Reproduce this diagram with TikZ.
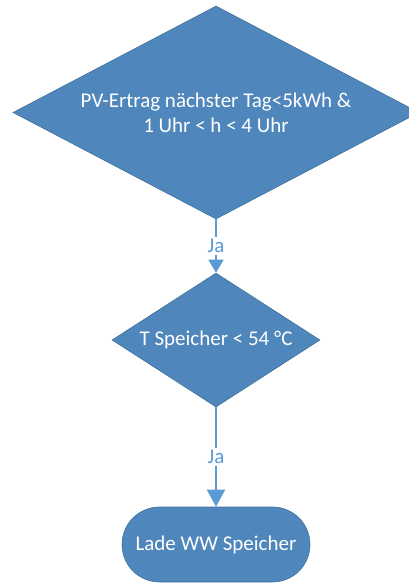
\documentclass[tikz,border=0pt]{standalone}
\usepackage{fontspec}
\setmainfont{Carlito}
\usetikzlibrary{shapes.geometric,shapes.misc,arrows.meta}
\definecolor{boxfill}{HTML}{4F86BB}
\definecolor{boxline}{HTML}{41719C}
\definecolor{linkblue}{HTML}{5B9BD5}
\tikzset{
  shapebase/.style={fill=boxfill, draw=boxline, line width=0.6pt, text=white, align=center, inner sep=0pt, font=\fontsize{21}{25}\selectfont},
  decision/.style={shapebase, diamond},
  terminal/.style={shapebase, rounded rectangle},
  link/.style={draw=linkblue, line width=1.6pt},
  linklabel/.style={fill=white, text=linkblue, inner sep=2pt, font=\fontsize{21}{23}\selectfont},
}
\begin{document}
\begin{tikzpicture}[x=1pt,y=-1pt]
\useasboundingbox (0,0) rectangle (409,583);
\begin{scope}
\clip (0,0) rectangle (409,583);
\node[decision, aspect=2, minimum width=406pt, minimum height=213pt] (d1) at (216,112.5) {PV-Ertrag nächster Tag<5kWh \&\\1 Uhr < h < 4 Uhr};
\node[decision, aspect=1.6, minimum width=208pt, minimum height=134pt] (d2) at (216,340) {T Speicher < 54 °C};
\node[terminal, minimum width=188pt, minimum height=75pt] (t1) at (216,544.5) {Lade WW Speicher};
\draw[link, -{Triangle[length=13pt,width=15pt]}] (d1.south) -- node[linklabel]{Ja} (d2.north);
\draw[link, -{Triangle[length=17pt,width=18pt]}] (d2.south) -- node[linklabel]{Ja} (t1.north);
\end{scope}
\end{tikzpicture}
\end{document}
